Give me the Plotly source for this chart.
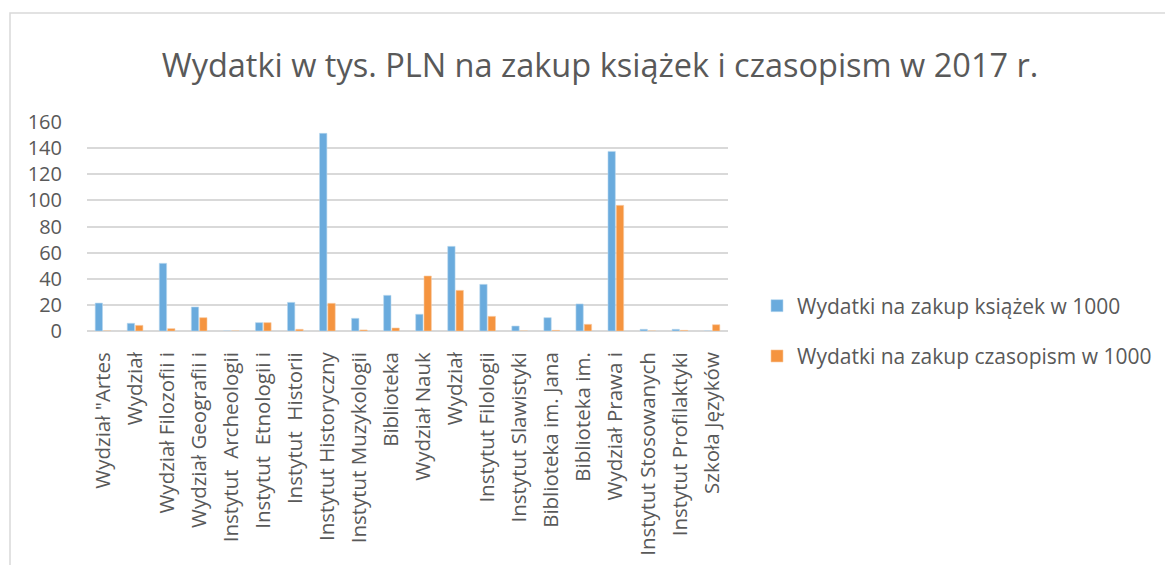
import plotly.graph_objects as go

categories = [
    'Wydział "Artes', 'Wydział', 'Wydział Filozofii i', 'Wydział Geografii i',
    'Instytut  Archeologii', 'Instytut  Etnologii i', 'Instytut  Historii',
    'Instytut Historyczny', 'Instytut Muzykologii', 'Biblioteka', 'Wydział Nauk',
    'Wydział', 'Instytut Filologii', 'Instytut Slawistyki', 'Biblioteka im. Jana',
    'Biblioteka im.', 'Wydział Prawa i', 'Instytut Stosowanych',
    'Instytut Profilaktyki', 'Szkoła Języków'
]
books = [21.4, 5.9, 51.8, 18.4, 0, 6.4, 21.9, 151.3, 9.7, 27.3,
         12.8, 64.8, 35.7, 3.8, 10.2, 20.7, 137.5, 1.3, 1.3, 0]
journals = [0, 4.3, 1.8, 10.2, 0, 6.4, 1.3, 21.2, 0.8, 2.3,
            42.1, 31.1, 11.2, 0, 0.5, 5.1, 96.2, 0, 0.5, 4.8]
series_names = ['Wydatki na zakup książek w 1000', 'Wydatki na zakup czasopism w 1000']
y_ticks = [0, 20, 40, 60, 80, 100, 120, 140, 160]

x_idx = list(range(len(categories)))

fig = go.Figure()
fig.add_trace(go.Bar(x=x_idx, y=books, name=series_names[0],
                     marker=dict(color='#6AABDD', line=dict(color='#B9D6EE', width=0.6)),
                     legendgroup='a'))
fig.add_trace(go.Bar(x=x_idx, y=journals, name=series_names[1],
                     marker=dict(color='#F5943F', line=dict(color='#F9C9A0', width=0.6)),
                     legendgroup='b'))

grey = '#595959'
# the page body adds an 8px offset, so the figure is laid out 8px up-left
L, T, PW, PH = 79, 114, 641, 209
fig.update_layout(
    width=1173, height=565,
    margin=dict(l=L, r=1173 - L - PW, t=T, b=565 - T - PH, autoexpand=False),
    paper_bgcolor='white', plot_bgcolor='white',
    barmode='group', bargap=0.48, bargroupgap=0.12,
    font=dict(family='Open Sans, sans-serif', color=grey),
    title=dict(text='Wydatki w tys. PLN na zakup książek i czasopism w 2017 r.',
               x=592 / 1173, xanchor='center', xref='container',
               y=1 - 58 / 565, yanchor='middle', yref='container',
               font=dict(size=32.5, color=grey)),
    xaxis=dict(tickmode='array', tickvals=x_idx, ticktext=categories,
               tickangle=-90, tickfont=dict(size=20.5, color=grey),
               range=[-0.5, len(categories) - 0.5],
               showgrid=False, showline=False, zeroline=False,
               ticks='outside', ticklen=12, tickcolor='rgba(0,0,0,0)'),
    yaxis=dict(range=[0, 160], tickvals=y_ticks, tickfont=dict(size=20, color=grey),
               showgrid=True, gridcolor='#D9D9D9', gridwidth=1.5,
               zeroline=True, zerolinecolor='#D9D9D9', zerolinewidth=1.5,
               showline=False, ticks='outside', ticklen=20,
               tickcolor='rgba(0,0,0,0)'),
    legend=dict(x=(749 - L) / PW, xanchor='left', y=0.0, yanchor='middle',
                font=dict(size=21, color=grey), tracegroupgap=20,
                itemwidth=30, bgcolor='rgba(0,0,0,0)'),
    showlegend=True,
    shapes=[dict(type='rect', xref='paper', yref='paper',
                 x0=(2 - L) / PW, x1=(1190 - L) / PW,
                 y0=(T + PH - 600) / PH, y1=(T + PH - 5) / PH,
                 line=dict(color='#D9D9D9', width=1.5), fillcolor='rgba(0,0,0,0)',
                 layer='below')]
)

fig.write_html('out.html')
